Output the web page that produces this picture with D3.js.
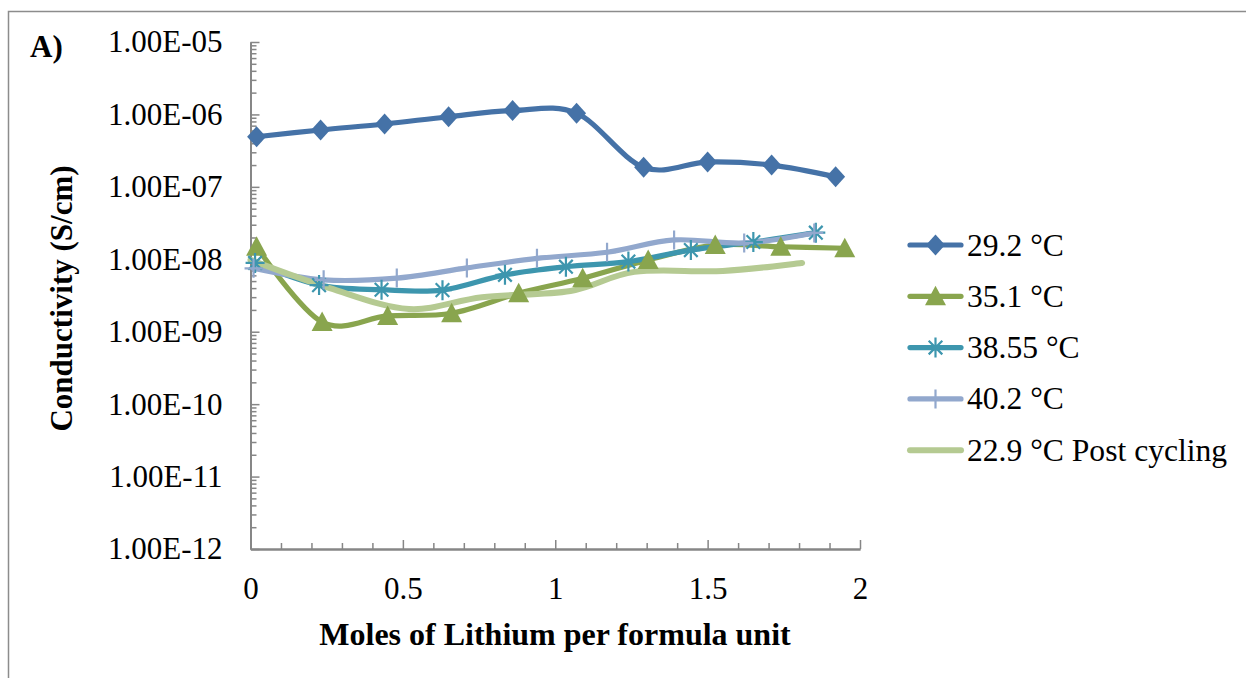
<!DOCTYPE html>
<html>
<head>
<meta charset="utf-8">
<script src="https://cdn.jsdelivr.net/npm/d3@7"></script>
<style>
  html, body { margin: 0; padding: 0; background: #fff; }
  svg { display: block; }
  text { font-family: "Liberation Serif", "Times New Roman", serif; fill: #000; }
</style>
</head>
<body>
<svg id="chart" width="1246" height="678"></svg>
<script>
// Conductivity vs. lithium content, log scale
const xTickValues = [0, 0.5, 1, 1.5, 2];
const yDecades = [1e-12, 1e-11, 1e-10, 1e-9, 1e-8, 1e-7, 1e-6, 1e-5];

const seriesNames = ["29.2 °C", "35.1 °C", "38.55 °C", "40.2 °C", "22.9 °C Post cycling"];
const seriesColors = ["#4572A7", "#89A54E", "#3D96AE", "#92A8CD", "#B5CA92"];
const seriesMarkers = ["diamond", "triangle", "asterisk", "plus", "none"];

const x292 = [0.02, 0.23, 0.44, 0.65, 0.86, 1.07, 1.29, 1.50, 1.71, 1.92];
const y292 = [4.92e-7, 6.1e-7, 7.38e-7, 9.3e-7, 1.13e-6, 1.04e-6, 1.86e-7, 2.2e-7, 2.0e-7, 1.38e-7];

const x351 = [0.02, 0.235, 0.45, 0.66, 0.88, 1.09, 1.305, 1.525, 1.74, 1.95];
const y351 = [1.49e-8, 1.36e-9, 1.65e-9, 1.8e-9, 3.39e-9, 5.46e-9, 9.78e-9, 1.57e-8, 1.49e-8, 1.42e-8];

const x3855 = [0.015, 0.225, 0.43, 0.63, 0.835, 1.035, 1.24, 1.445, 1.65, 1.855];
const y3855 = [8.9e-9, 4.4e-9, 3.8e-9, 3.75e-9, 6.1e-9, 7.9e-9, 9.3e-9, 1.34e-8, 1.73e-8, 2.33e-8];

const x402 = [0.01, 0.24, 0.48, 0.71, 0.94, 1.17, 1.39, 1.62, 1.85];
const y402 = [7.5e-9, 5.2e-9, 5.5e-9, 7.6e-9, 1.03e-8, 1.25e-8, 1.85e-8, 1.68e-8, 2.31e-8];

const x229 = [0, 0.26, 0.52, 0.76, 1.05, 1.26, 1.55, 1.81];
const y229 = [9.8e-9, 4.0e-9, 2.06e-9, 3.0e-9, 3.65e-9, 6.7e-9, 6.9e-9, 8.9e-9];

const seriesX = [x292, x351, x3855, x402, x229];
const seriesY = [y292, y351, y3855, y402, y229];

const svg = d3.select("#chart");
const axisColor = "#868686";

// outer frame (top and left edges)
svg.append("path")
  .attr("d", "M8.5,678 L8.5,11.5 L1246,11.5")
  .attr("fill", "none").attr("stroke", "#8c8c8c").attr("stroke-width", 1.5);

const x = d3.scaleLinear().domain([0, 2]).range([250.5, 860]);
const y = d3.scaleLog().domain([1e-12, 1e-5]).range([549, 42]);

// minor ticks
const minorY = [];
yDecades.slice(0, -1).forEach(d => { for (let k = 2; k <= 9; k++) minorY.push(d * k); });
const minorX = d3.range(0, 2.0001, 0.1).map(v => +v.toFixed(1)).filter(v => xTickValues.indexOf(v) < 0);

const gY = svg.append("g").attr("transform", `translate(${x(0)},0)`);
gY.append("g").call(d3.axisLeft(y).tickValues(minorY).tickFormat("").tickSizeInner(-6).tickSizeOuter(0));
gY.append("g").call(d3.axisLeft(y).tickValues(yDecades)
  .tickFormat(v => { const e = Math.round(Math.log10(v)); return "1.00E-" + String(-e).padStart(2, "0"); })
  .tickSizeInner(-9).tickSizeOuter(0).tickPadding(28));

const gX = svg.append("g").attr("transform", `translate(0,${y(1e-12)})`);
gX.append("g").call(d3.axisBottom(x).tickValues(minorX).tickFormat("").tickSizeInner(-6).tickSizeOuter(0));
gX.append("g").call(d3.axisBottom(x).tickValues(xTickValues).tickFormat(d3.format("")).tickSizeInner(-9).tickSizeOuter(0).tickPadding(28));

svg.selectAll(".domain").attr("stroke", axisColor).attr("stroke-width", 1.8);
svg.selectAll(".tick line").attr("stroke", axisColor).attr("stroke-width", 1.5);
svg.selectAll(".tick text").attr("font-size", 31).attr("font-family", "Liberation Serif").attr("fill", "#000");

// titles
svg.append("text").attr("x", 30).attr("y", 57).attr("font-size", 31).attr("font-weight", "bold").text("A)");
svg.append("text").attr("transform", "translate(72,298.5) rotate(-90)")
  .attr("text-anchor", "middle").attr("font-size", 31).attr("font-weight", "bold")
  .text("Conductivity (S/cm)");
svg.append("text").attr("x", 555).attr("y", 645).attr("text-anchor", "middle")
  .attr("font-size", 32).attr("font-weight", "bold").text("Moles of Lithium per formula unit");

// marker shapes
function markerPath(kind) {
  switch (kind) {
    case "diamond": return "M0,-10.5L9.5,0L0,10.5L-9.5,0Z";
    case "triangle": return "M0,-10.5L10.5,9L-10.5,9Z";
    case "asterisk": return "M-9.5,0H9.5M0,-10V10M-6.8,-6.8L6.8,6.8M-6.8,6.8L6.8,-6.8";
    case "plus": return "M-9,0H9M0,-9.5V9.5";
    default: return "";
  }
}
function drawMarker(g, kind, color, px, py) {
  const p = g.append("path").attr("d", markerPath(kind)).attr("transform", `translate(${px},${py})`);
  if (kind === "diamond" || kind === "triangle") p.attr("fill", color).attr("stroke", "none");
  else p.attr("fill", "none").attr("stroke", color).attr("stroke-width", 2.2);
}

const line = d3.line().x(d => x(d[0])).y(d => y(d[1])).curve(d3.curveCardinal.tension(0));

// lines first, then markers on top
const linesG = svg.append("g");
seriesX.forEach((xs, i) => {
  const pts = xs.map((v, j) => [v, seriesY[i][j]]);
  linesG.append("path").datum(pts).attr("d", line)
    .attr("fill", "none").attr("stroke", seriesColors[i])
    .attr("stroke-width", i === 4 ? 6 : 5.2)
    .attr("stroke-linejoin", "round").attr("stroke-linecap", "round");
});
const markG = svg.append("g");
seriesX.forEach((xs, i) => {
  if (seriesMarkers[i] === "none") return;
  xs.forEach((v, j) => drawMarker(markG, seriesMarkers[i], seriesColors[i], x(v), y(seriesY[i][j])));
});

// legend
const legend = svg.append("g");
seriesNames.forEach((name, i) => {
  const cy = 245 + i * 51.3;
  legend.append("line").attr("x1", 910).attr("x2", 961).attr("y1", cy).attr("y2", cy)
    .attr("stroke", seriesColors[i]).attr("stroke-width", i === 4 ? 6 : 5.2).attr("stroke-linecap", "round");
  if (seriesMarkers[i] !== "none") drawMarker(legend, seriesMarkers[i], seriesColors[i], 935.5, cy);
  legend.append("text").attr("x", 967).attr("y", cy + 10.5).attr("font-size", 31.6).text(name);
});
</script>
</body>
</html>
